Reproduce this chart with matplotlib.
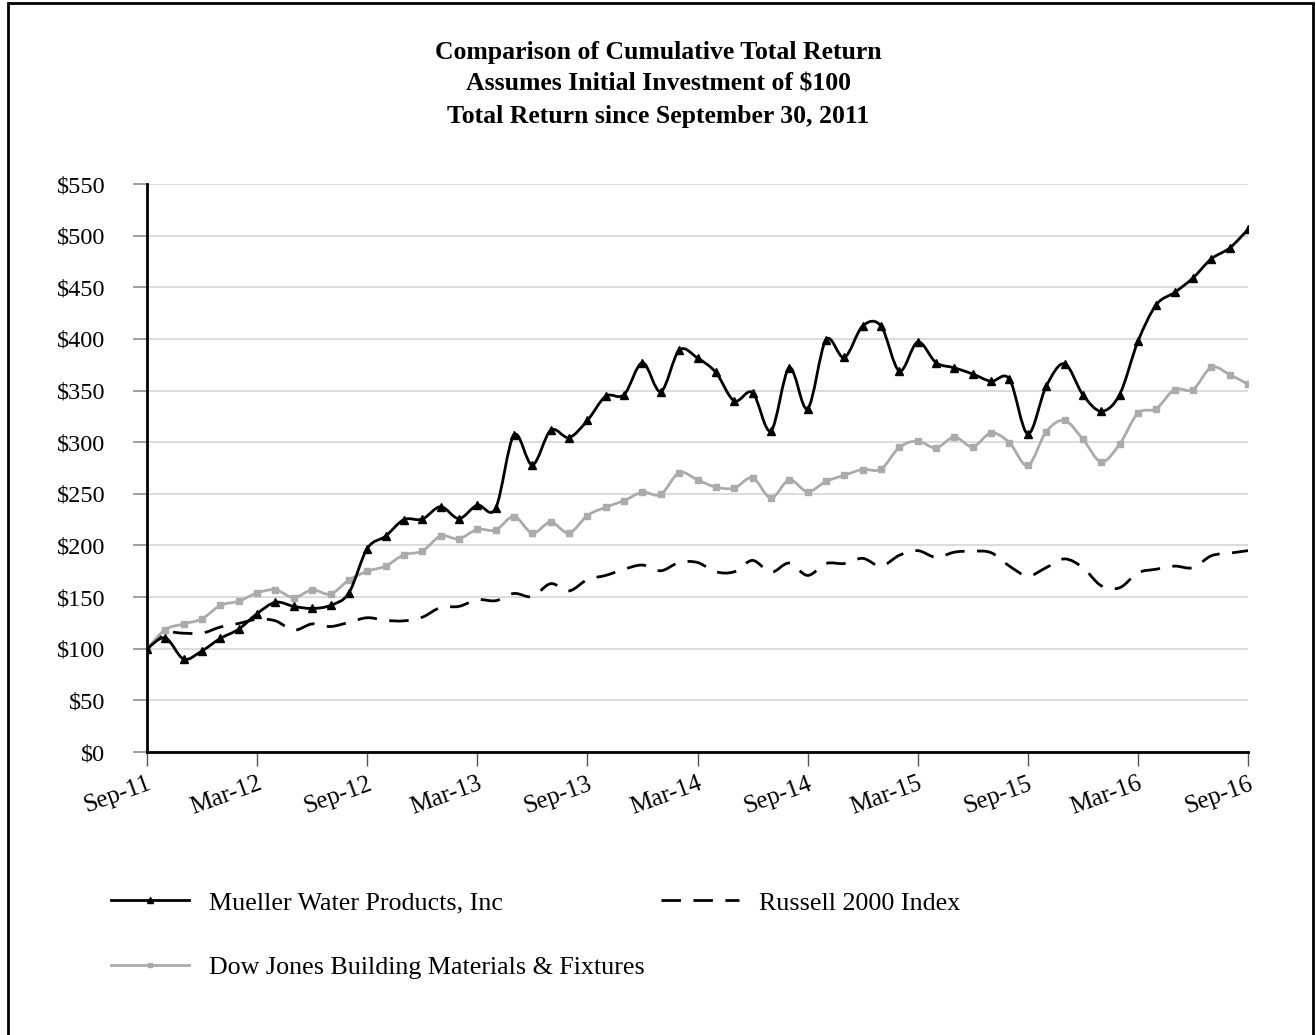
import matplotlib
matplotlib.use('Agg')
import matplotlib.pyplot as plt
import numpy as np
from matplotlib.path import Path
from matplotlib.patches import PathPatch, Rectangle
from matplotlib.lines import Line2D

plt.rcParams['font.family'] = ['Liberation Serif', 'DejaVu Serif']

# monthly values, Sep-11 .. Sep-16 (61 months)
mueller = [100, 110.5, 90, 98, 110, 119, 134, 145, 141, 139, 142, 154, 197,
           209, 225, 225.5, 237.5, 226, 239, 236, 307, 278, 311.5, 304.5, 321,
           344.5, 346, 377, 349, 389, 381.5, 367.5, 340, 348, 311, 372, 332.5,
           399, 382, 412.5, 412.5, 369, 397, 377, 372, 366, 359, 361, 308,
           354, 376, 346, 330, 346, 397.5, 433, 445, 459, 477.5, 488, 506]
dow_jones = [100, 118.5, 124, 129, 142, 146, 154, 157, 149.5, 157, 153, 166.5, 175,
             180, 191, 194.5, 209, 206.5, 215.5, 215, 228, 212, 222.5, 212, 229,
             237, 243.5, 251.5, 249.5, 270.5, 263.5, 256.5, 255.5, 265.5, 246, 263.5, 252,
             262, 268, 273.5, 274, 295, 301, 294.5, 305, 295.5, 309, 299.5, 277.5,
             310, 321, 303, 281, 298, 328, 332.5, 351, 351, 372.5, 365.5, 356]
russell = [100, 115, 115, 115, 121, 124.5, 128.5, 127, 118, 124, 121.5, 125.5, 130,
           127.5, 127, 130.5, 140, 141, 147.5, 146.5, 153.5, 150.5, 163, 156, 167,
           171, 177, 181, 175.5, 183.5, 183.5, 174.5, 174.5, 185.5, 174, 183, 171,
           182.5, 182.5, 187.5, 180, 190.5, 195, 188.5, 193.5, 194.5, 193, 180, 170.5,
           178.5, 187, 178.5, 161, 159, 173.5, 177, 180, 178.5, 190, 192.5, 195]
tick_labels = ['Sep-11', 'Mar-12', 'Sep-12', 'Mar-13', 'Sep-13', 'Mar-14',
               'Sep-14', 'Mar-15', 'Sep-15', 'Mar-16', 'Sep-16']
labels = ['Mueller Water Products, Inc', 'Dow Jones Building Materials & Fixtures',
          'Russell 2000 Index']

months = np.arange(len(mueller))


def smooth_path(x, y):
    # excel-style smoothed line: bezier segments through the data points
    pts = np.column_stack([x, y]).astype(float)
    n = len(pts)
    verts = [pts[0]]
    codes = [Path.MOVETO]
    for i in range(n - 1):
        p0 = pts[max(i - 1, 0)]
        p1 = pts[i]
        p2 = pts[i + 1]
        p3 = pts[min(i + 2, n - 1)]
        verts += [p1 + (p2 - p0) / 6, p2 - (p3 - p1) / 6, p2]
        codes += [Path.CURVE4] * 3
    return Path(verts, codes)


fig = plt.figure(figsize=(13.16, 10.35), dpi=100)
ax = fig.add_axes([147 / 1316, 1 - 752 / 1035, 1101 / 1316, 568 / 1035])

gray = '#ababab'
ax.add_patch(PathPatch(smooth_path(months, russell), fill=False, edgecolor='black',
                       lw=2, linestyle=(0, (7, 4.5)), zorder=3))
ax.add_patch(PathPatch(smooth_path(months, dow_jones), fill=False, edgecolor=gray,
                       lw=2, zorder=4))
ax.plot(months, dow_jones, ls='none', marker='s', ms=4, color=gray, zorder=4)
ax.add_patch(PathPatch(smooth_path(months, mueller), fill=False, edgecolor='black',
                       lw=2, zorder=5))
ax.plot(months, mueller, ls='none', marker='^', ms=5.5, color='black', zorder=5)

ax.set_xlim(0, 60)
ax.set_ylim(0, 550)
ax.set_yticks(np.arange(0, 551, 50))
ax.set_yticklabels(['${}'.format(v) for v in range(0, 551, 50)], fontsize=17.5)
ax.set_xticks(np.arange(0, 61, 6))
ax.set_xticklabels(tick_labels, fontsize=18, rotation=20, ha='right',
                   rotation_mode='anchor')
ax.grid(axis='y', color='#d9d9d9', lw=1.3)
ax.set_axisbelow(True)
for s in ['top', 'right']:
    ax.spines[s].set_visible(False)
ax.spines['left'].set_linewidth(2)
ax.spines['bottom'].set_linewidth(2)
ax.tick_params(axis='y', length=10, width=1.3, color='#999999', pad=20)
ax.tick_params(axis='x', length=10, width=1, color='#555555', pad=5)

fig.text(0.5, 1 - 84 / 1035,
         'Comparison of Cumulative Total Return\nAssumes Initial Investment of $100\n'
         'Total Return since September 30, 2011',
         ha='center', va='center', fontsize=18.5, fontweight='bold', linespacing=1.5)

handles = [Line2D([], [], color='black', lw=2, marker='^', ms=5),
           Line2D([], [], color=gray, lw=2, marker='s', ms=3.5),
           Line2D([], [], color='black', lw=2, linestyle=(0, (7, 4.5)))]
fig.legend(handles, labels, loc='upper left', bbox_to_anchor=(88 / 1316, 1 - 868 / 1035),
           ncol=2, frameon=False, fontsize=18.7, handlelength=3.0, handletextpad=0.77,
           labelspacing=1.6, columnspacing=0.6, markerscale=1)

fig.add_artist(Rectangle((8 / 1316, -0.01), 1305 / 1316, 1.01 - 3 / 1035,
                         transform=fig.transFigure, fill=False, lw=2, edgecolor='black'))

fig.savefig('out.png', dpi=100)
